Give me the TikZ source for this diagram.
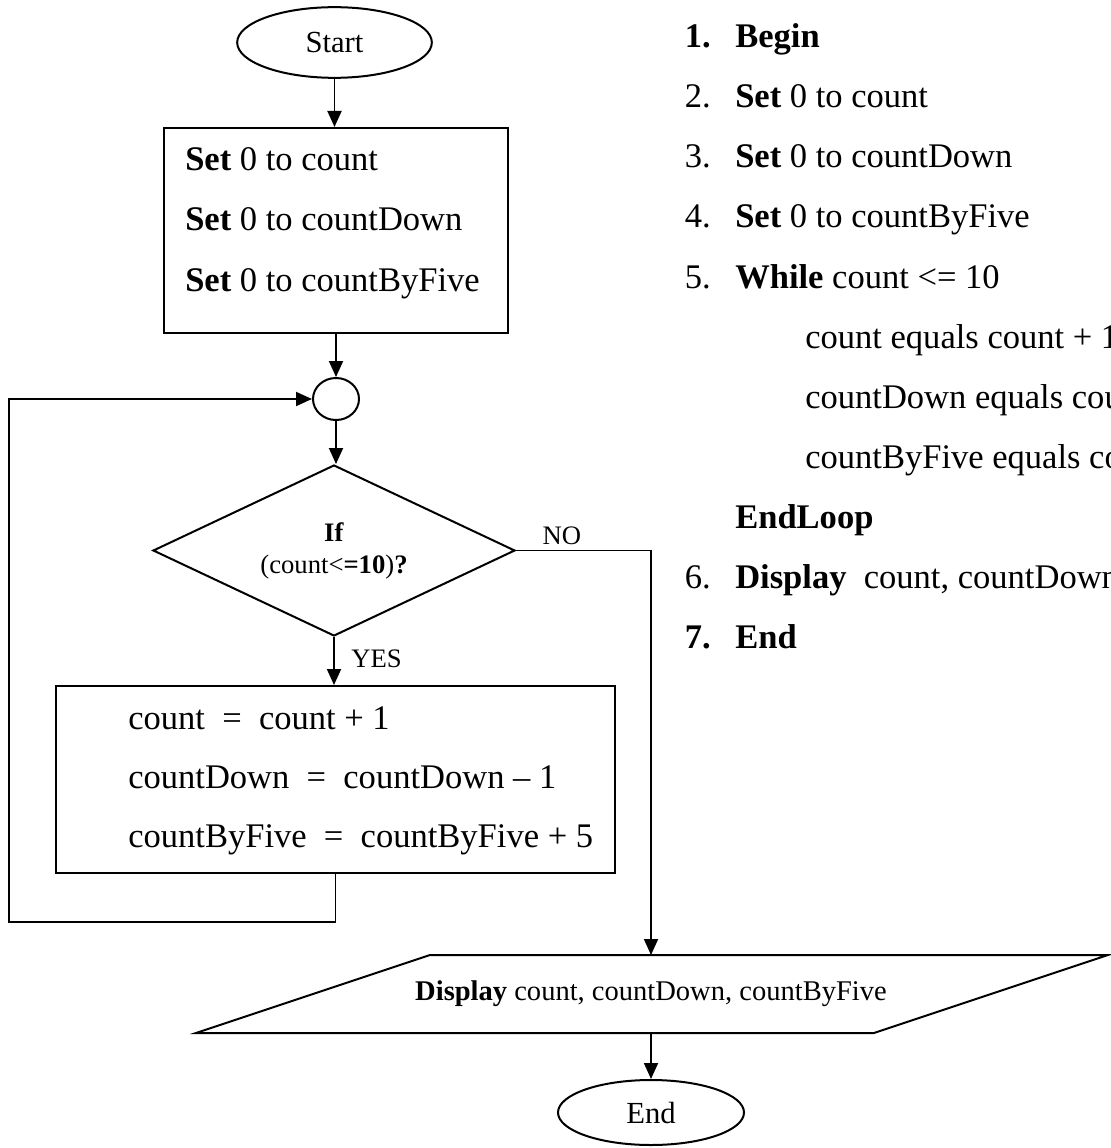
\documentclass[tikz,border=0pt]{standalone}
\usepackage{fontspec}
\setmainfont{Liberation Serif}
\usepackage{tikz}
\usetikzlibrary{arrows.meta, shapes.geometric}

\begin{document}
\begin{tikzpicture}[x=0.75pt,y=0.75pt,yscale=-1,xscale=1,
    flow/.style={draw, line width=1.4pt, -{Triangle[length=12pt,width=10.5pt]}},
    outline/.style={draw, line width=1.5pt},
    terminal/.style={ellipse, outline, inner sep=0pt, font=\fontsize{23}{27}\selectfont},
    procbox/.style={rectangle, outline, inner sep=0pt},
    bigtxt/.style={anchor=base west, inner sep=0pt, font=\fontsize{25.9}{31}\selectfont},
    numtxt/.style={anchor=base east, inner sep=0pt, font=\fontsize{25.9}{31}\selectfont},
    smalltxt/.style={font=\fontsize{20}{24}\selectfont}
]
\useasboundingbox (0,0) rectangle (1110,1148);

% Terminal: Start
\node[terminal, minimum width=146pt, minimum height=53pt] (start) at (334.5,42.5) {Start};

% Process: initial values
\node[procbox, minimum width=258pt, minimum height=153.75pt] (init) at (336,230.5) {};
\node[bigtxt] (set1) at (185,171) {\textbf{Set} 0 to count};
\node[bigtxt] (set2) at (185,231) {\textbf{Set} 0 to countDown};
\node[bigtxt] (set3) at (185,291) {\textbf{Set} 0 to countByFive};

% Connector circle
\node[ellipse, outline, inner sep=0pt, minimum width=34.5pt, minimum height=31.5pt] (join) at (336,399) {};

% Decision
\node[diamond, outline, inner sep=0pt, aspect=2.12, minimum width=271.5pt, minimum height=128.25pt, align=center, smalltxt] (test) at (334,550.5) {\textbf{If}\\(count<\textbf{=10})\textbf{?}};

% Process: loop body
\node[procbox, minimum width=419.25pt, minimum height=140.25pt] (update) at (335.5,779.5) {};
\node[bigtxt] (inc1) at (128,729) {count~~=~~count + 1};
\node[bigtxt] (inc2) at (128,788) {countDown~~=~~countDown -- 1};
\node[bigtxt] (inc3) at (128,847) {countByFive~~=~~countByFive + 5};

% Output (parallelogram)
\draw[outline] (196,1033) -- (430,955) -- (1108,955) -- (874,1033) -- cycle;
\node[font=\fontsize{21.4}{25}\selectfont] (show) at (651,994) {\textbf{Display} count, countDown, countByFive};
\coordinate (showtop) at (651,955);
\coordinate (showbot) at (651,1033);

% Terminal: End
\node[terminal, minimum width=139.5pt, minimum height=48.75pt] (stop) at (651,1112.5) {End};

\coordinate (back) at (9,922);

% Connectors
\draw[flow] (start.south) -- (start.south |- init.north);
\draw[flow] (init.south) -- (join.north);
\draw[flow] (join.south) -- (join.south |- test.north);
\draw[flow] (test.south) -- node[right, pos=0.45, xshift=9pt, smalltxt] {YES} (test.south |- update.north);
\draw[flow] (test.east) -| node[above, pos=0.17, smalltxt] {NO} (showtop);
\draw[flow] (showbot) -- (stop.north);
\draw[flow] (update.south) |- (back) |- (join.west);

% Pseudocode
\begin{scope}
\clip (0,0) rectangle (1110,1148);
\node[numtxt] (n1) at (711,48) {\textbf{1.}};
\node[bigtxt] (p1) at (735,48) {\textbf{Begin}};
\node[numtxt] (n2) at (711,108) {2.};
\node[bigtxt] (p2) at (735,108) {\textbf{Set} 0 to count};
\node[numtxt] (n3) at (711,168) {3.};
\node[bigtxt] (p3) at (735,168) {\textbf{Set} 0 to countDown};
\node[numtxt] (n4) at (711,228) {4.};
\node[bigtxt] (p4) at (735,228) {\textbf{Set} 0 to countByFive};
\node[numtxt] (n5) at (711,288) {5.};
\node[bigtxt] (p5) at (735,288) {\textbf{While} count <= 10};
\node[bigtxt] (p5a) at (805,348) {count equals count + 1};
\node[bigtxt] (p5b) at (805,408) {countDown equals countDown -- 1};
\node[bigtxt] (p5c) at (805,468) {countByFive equals countByFive + 5};
\node[bigtxt] (p5d) at (735,528) {\textbf{EndLoop}};
\node[numtxt] (n6) at (711,588) {6.};
\node[bigtxt] (p6) at (735,588) {\textbf{Display}~ count, countDown, countByFive};
\node[numtxt] (n7) at (711,648) {\textbf{7.}};
\node[bigtxt] (p7) at (735,648) {\textbf{End}};
\end{scope}
\end{tikzpicture}
\end{document}
